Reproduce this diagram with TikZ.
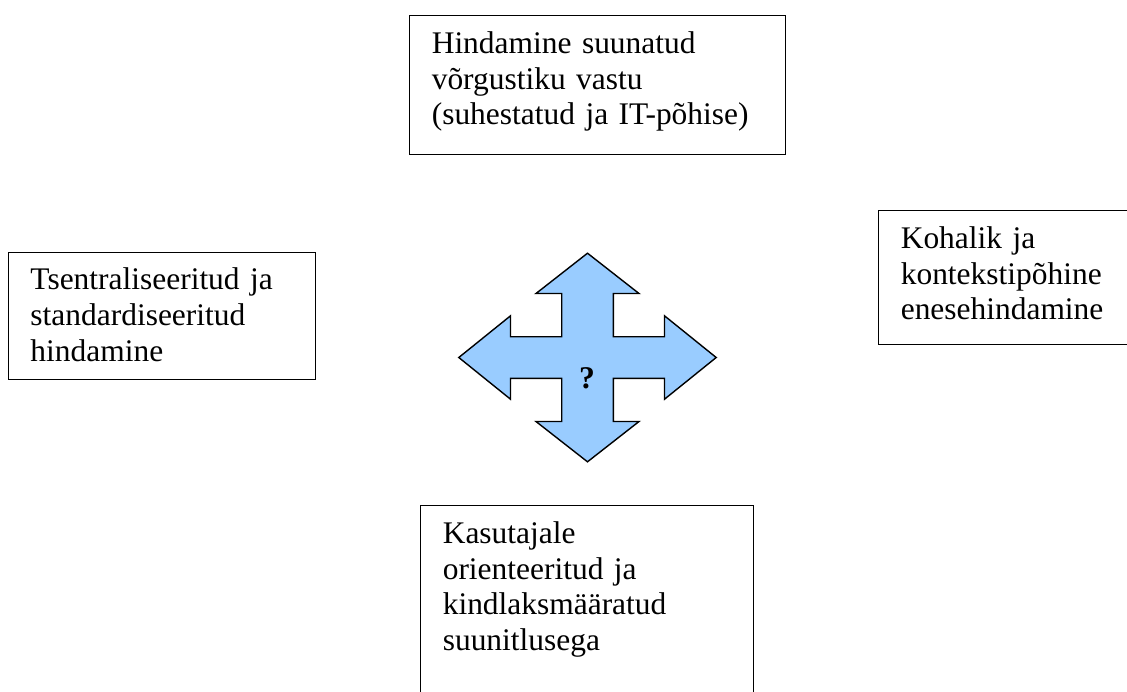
\documentclass[tikz,border=0pt]{standalone}
\usepackage{fontspec}
\setmainfont{Liberation Serif}
\definecolor{paleblue}{HTML}{99CCFF}
\tikzset{
  txtbox/.style 2 args={draw, line width=0.75pt, anchor=north west, align=left,
    inner xsep=12.6pt, inner ysep=0pt, text height=21.34pt,
    text width=#1, text depth=#2, font=\fontsize{17.9pt}{20.4pt}\selectfont},
  crossarrow/.style={draw, line width=0.8pt, fill=paleblue}
}
\begin{document}
\begin{tikzpicture}[x=0.02cm,y=-0.02cm]
\clip (0,0) rectangle (1127,691);

%top
\node[txtbox={188.8pt}{57.8pt}] (net) at (409,15) {Hindamine suunatud\\ võrgustiku vastu\\ (suhestatud ja IT-põhise)};

%left
\node[txtbox={149.7pt}{51.1pt}] (central) at (7.7,251.7) {Tsentraliseeritud ja\\ standardiseeritud\\ hindamine};

%right
\node[txtbox={134.1pt}{54.9pt}] (local) at (878,210) {Kohalik ja\\ kontekstipõhine\\ enesehindamine};

%bottom
\node[txtbox={164.3pt}{103.9pt}] (user) at (420,505) {Kasutajale\\ orienteeritud ja\\ kindlaksmääratud\\ suunitlusega};

%arrow
\draw[crossarrow] (587.5,253.2) -- (639,293.5) -- (613.3,293.5) -- (613.3,336.7)
  -- (664.5,336.7) -- (664.5,315.8) -- (716.2,357.5) -- (664.5,399.2) -- (664.5,378.3)
  -- (613.3,378.3) -- (613.3,421.5) -- (639,421.5) -- (587.5,461.8) -- (536,421.5)
  -- (561.7,421.5) -- (561.7,378.3) -- (510.5,378.3) -- (510.5,399.2) -- (458.8,357.5)
  -- (510.5,315.8) -- (510.5,336.7) -- (561.7,336.7) -- (561.7,293.5) -- (536,293.5) -- cycle;
\node[font=\fontsize{18pt}{20.4pt}\selectfont\bfseries] (q) at (587,378) {?};

\end{tikzpicture}
\end{document}
